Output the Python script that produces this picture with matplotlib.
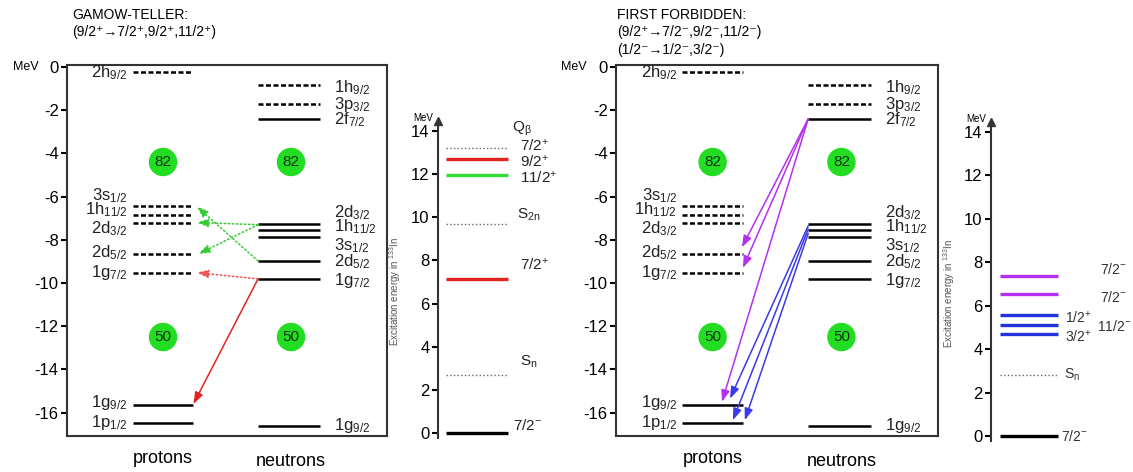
import numpy as np
import matplotlib
matplotlib.use("Agg")
from matplotlib import pyplot as plt

plt.rcParams['font.family'] = ['Liberation Sans', 'DejaVu Sans']
plt.rcParams['mathtext.fontset'] = 'custom'
plt.rcParams['mathtext.rm'] = 'Liberation Sans'
plt.rcParams['mathtext.it'] = 'Liberation Sans:italic'
plt.rcParams['mathtext.bf'] = 'Liberation Sans:bold'
plt.rcParams['mathtext.default'] = 'rm'

# single particle levels [MeV]
proton_names = ['2h9/2', '3s1/2', '1h11/2', '2d3/2', '2d5/2', '1g7/2', '1g9/2', '1p1/2']
proton_E = [-0.25, -6.45, -6.85, -7.2, -8.66, -9.52, -15.65, -16.5]
proton_occ = [False, False, False, False, False, False, True, True]
proton_label_E = [-0.25, -5.95, -6.6, -7.5, -8.6, -9.5, -15.55, -16.45]

neutron_names = ['1h9/2', '3p3/2', '2f7/2', '2d3/2', '1h11/2', '3s1/2', '2d5/2', '1g7/2', '1g9/2']
neutron_E = [-0.85, -1.7, -2.4, -7.27, -7.55, -7.87, -8.98, -9.81, -16.6]
neutron_occ = [False, False, True, True, True, True, True, True, True]
neutron_label_E = [-0.97, -1.76, -2.45, -6.75, -7.4, -8.25, -9.0, -9.87, -16.6]

magic_numbers = ['82', '50']
magic_E = [-4.4, -12.5]

# Gamow-Teller transitions (neutron -> proton)
gt_start_E = [-7.3, -7.3, -8.98, -9.81, -9.81]
gt_end_E = [-7.2, -8.66, -6.45, -9.52, -15.6]
gt_end_x = [0.405, 0.41, 0.405, 0.405, 0.395]
gt_colors = ['#33cc33', '#33cc33', '#33cc33', '#ee5555', '#e32222']
gt_styles = [':', ':', ':', ':', '-']

# first forbidden transitions
ff_start_E = [-2.4, -2.4, -2.4, -7.35, -7.5, -7.7]
ff_end_E = [-8.35, -9.3, -15.5, -15.35, -16.35, -16.35]
ff_end_x = [0.391, 0.394, 0.329, 0.354, 0.363, 0.40]
ff_colors = ['#b530f0', '#b530f0', '#b530f0', '#3a3ae8', '#3a3ae8', '#3a3ae8']

# excitation energies in 133In [MeV]
gt_lev_E = [13.2, 12.7, 11.95, 9.67, 7.13, 2.7, 0.0]
gt_lev_col = ['#666666', '#e32222', '#33dd33', '#666666', '#e32222', '#666666', 'black']
gt_lev_dotted = [True, False, False, True, False, True, False]
gt_labels = ['Q$_{\\beta}$', '7/2$^{+}$', '9/2$^{+}$', '11/2$^{+}$', 'S$_{2n}$', '7/2$^{+}$',
             'S$_{n}$', '7/2$^{-}$']
gt_label_E = [14.1, 13.3, 12.6, 11.85, 10.1, 7.8, 3.3, 0.35]
gt_label_x = [74, 82, 82, 82, 79, 82, 82, 75]

ff_lev_E = [7.35, 6.55, 5.55, 5.1, 4.7, 2.8, 0.0]
ff_lev_col = ['#b530f0', '#b530f0', '#2233dd', '#2233dd', '#2233dd', '#666666', 'black']
ff_lev_dotted = [False, False, False, False, False, True, False]
ff_labels = ['7/2$^{-}$', '7/2$^{-}$', '1/2$^{+}$', '11/2$^{-}$', '3/2$^{+}$', 'S$_{n}$', '7/2$^{-}$']
ff_label_E = [7.65, 6.4, 5.44, 5.02, 4.56, 2.8, 0.0]
ff_label_x = [109, 109, 74, 106, 74, 73, 70]


def sub(name):
    return name[:2] + '$_{' + name[2:] + '}$'


def level_panel(ax):
    ax.set_xlim(0, 1)
    ax.set_ylim(-17.08, 0.09)
    ax.set_xticks([])
    ticks = np.arange(0, -17, -2)
    ax.set_yticks(ticks)
    ax.set_yticklabels([str(t) for t in ticks])
    ax.tick_params(axis='y', direction='out', length=4, width=1.5, labelsize=12, pad=2)
    for s in ax.spines.values():
        s.set_linewidth(1.5)
        s.set_color('#333333')
    for E, occ in zip(proton_E, proton_occ):
        ax.hlines(E, 0.206, 0.394, colors='black', lw=1.8,
                  linestyles='-' if occ else (0, (2, 1)))
    for n, E in zip(proton_names, proton_label_E):
        ax.text(0.19, E, sub(n), ha='right', va='center', fontsize=12, color='#222222')
    for E, occ in zip(neutron_E, neutron_occ):
        ax.hlines(E, 0.597, 0.791, colors='black', lw=1.8,
                  linestyles='-' if occ else (0, (2, 1)))
    for n, E in zip(neutron_names, neutron_label_E):
        ax.text(0.835, E, sub(n), ha='left', va='center', fontsize=12, color='#222222')
    for m, E in zip(magic_numbers, magic_E):
        for x in [0.3, 0.7]:
            ax.scatter([x], [E], s=420, color='#22dd22', zorder=3, edgecolors='none')
            ax.text(x, E, m, ha='center', va='center', fontsize=11, color='#113311', zorder=4)
    ax.text(-0.09, 0, 'MeV', ha='right', va='center', fontsize=9,
            transform=ax.get_yaxis_transform())
    ax.text(0.3, -0.06, 'protons', ha='center', va='center', fontsize=13,
            transform=ax.transAxes)
    ax.text(0.7, -0.07, 'neutrons', ha='center', va='center', fontsize=13,
            transform=ax.transAxes)


def arrow(ax, x0, y0, x1, y1, c, ls='-'):
    ax.annotate('', xy=(x1, y1), xytext=(x0, y0),
                arrowprops=dict(arrowstyle='-|>,head_length=0.7,head_width=0.25', color=c,
                                lw=1.1, ls=ls, shrinkA=0, shrinkB=0, mutation_scale=10))


def excitation_axis(ax, width, ylab_x):
    ax.set_xlim(0, width)
    ax.set_ylim(-0.35, 15)
    ax.patch.set_alpha(0)
    for k in ['top', 'right', 'bottom']:
        ax.spines[k].set_visible(False)
    ax.spines['left'].set_linewidth(1.5)
    ax.spines['left'].set_color('#333333')
    ax.spines['left'].set_bounds(-0.25, 14.4)
    ax.plot([0], [14.45], marker='^', ms=6, color='#333333', clip_on=False)
    ax.set_xticks([])
    ticks = np.arange(0, 15, 2)
    ax.set_yticks(ticks)
    ax.set_yticklabels([str(t) for t in ticks])
    ax.tick_params(axis='y', direction='out', length=4, width=1.5, labelsize=12, pad=2)
    ax.text(-5, 14.6, 'MeV', ha='right', va='center', fontsize=7)
    ax.set_ylabel('Excitation energy in $^{133}$In', fontsize=7, color='#555555')
    ax.yaxis.set_label_coords(ylab_x, 0.45)


fig = plt.figure(figsize=(11.33, 4.72), dpi=100)
W, H = 1133, 472

# Gamow-Teller panel
ax1 = fig.add_axes([67 / W, 1 - 436 / H, 320 / W, 371 / H])
level_panel(ax1)
for E0, E1, x1, c, ls in zip(gt_start_E, gt_end_E, gt_end_x, gt_colors, gt_styles):
    arrow(ax1, 0.597, E0, x1, E1, c, ls)

ax2 = fig.add_axes([438 / W, 1 - 440.5 / H, 122 / W, 331.1 / H])
excitation_axis(ax2, 122, -0.29)
for E, c, d in zip(gt_lev_E, gt_lev_col, gt_lev_dotted):
    ax2.hlines(E, 8, 70, colors=c, lw=1.0 if d else 2.4, linestyles=':' if d else '-')
for t, E, x in zip(gt_labels, gt_label_E, gt_label_x):
    ax2.text(x, E, t, ha='left', va='center', fontsize=11, color='#222222')

# First forbidden panel
ax3 = fig.add_axes([616 / W, 1 - 436 / H, 322 / W, 371 / H])
level_panel(ax3)
for E0, E1, x1, c in zip(ff_start_E, ff_end_E, ff_end_x, ff_colors):
    arrow(ax3, 0.597, E0, x1, E1, c)

ax4 = fig.add_axes([991 / W, 1 - 443.6 / H, 142 / W, 333.3 / H])
excitation_axis(ax4, 142, -0.24)
for E, c, d in zip(ff_lev_E, ff_lev_col, ff_lev_dotted):
    ax4.hlines(E, 9, 67, colors=c, lw=1.0 if d else 2.4, linestyles=':' if d else '-')
for t, E, x in zip(ff_labels, ff_label_E, ff_label_x):
    ax4.text(x, E, t, ha='left', va='center', fontsize=10, color='#333333')

# headers
fig.text(72 / W, 1 - 15 / H, 'GAMOW-TELLER:', fontsize=10, va='center')
fig.text(72 / W, 1 - 32 / H, '(9/2\u207a\u21927/2\u207a,9/2\u207a,11/2\u207a)',
         fontsize=10, va='center')
fig.text(617 / W, 1 - 15 / H, 'FIRST FORBIDDEN:', fontsize=10, va='center')
fig.text(617 / W, 1 - 32 / H, '(9/2\u207a\u21927/2\u207b,9/2\u207b,11/2\u207b)',
         fontsize=10, va='center')
fig.text(617 / W, 1 - 50 / H, '(1/2\u207b\u21921/2\u207b,3/2\u207b)',
         fontsize=10, va='center')

fig.savefig('out.png', dpi=100)
